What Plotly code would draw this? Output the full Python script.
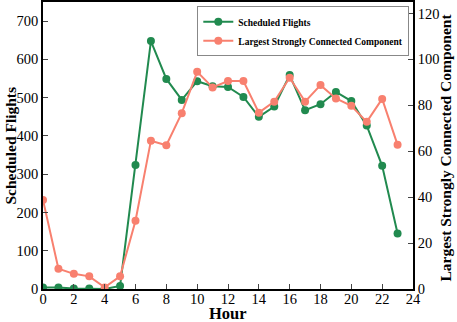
import plotly.graph_objects as go

hours = list(range(24))
scheduled_flights = [4, 4, 1, 1, 0, 8, 324, 648, 549, 494, 543, 530, 528, 502, 450, 477, 559, 467, 483, 515, 491, 427, 322, 145]
lscc = [38.8, 8.8, 6.6, 5.5, 0.7, 5.5, 29.7, 64.6, 62.6, 76.6, 94.6, 87.8, 90.6, 90.6, 76.8, 81.6, 92.0, 81.6, 88.8, 83.0, 79.8, 72.8, 82.8, 62.8]

x_ticks = list(range(0, 25, 2))
left_ticks = list(range(0, 701, 100))
right_ticks = list(range(0, 121, 20))

green = "#218a4f"
salmon = "#f8806f"
font_family = "Liberation Serif, Times New Roman, serif"

fig = go.Figure()
fig.add_trace(go.Scatter(x=hours, y=scheduled_flights, name="Scheduled Flights",
                         mode="lines+markers", line=dict(color=green, width=2),
                         marker=dict(color=green, size=8), yaxis="y"))
fig.add_trace(go.Scatter(x=hours, y=lscc, name="Largest Strongly Connected Component",
                         mode="lines+markers", line=dict(color=salmon, width=2),
                         marker=dict(color=salmon, size=8), yaxis="y2"))

axis_common = dict(ticks="inside", ticklen=5, showline=True, linecolor="black",
                   linewidth=1.5, showgrid=False, zeroline=False, automargin=False,
                   tickfont=dict(size=14.5))

fig.update_layout(
    width=457, height=322,
    margin=dict(l=43, r=44, t=2, b=33),
    plot_bgcolor="white", paper_bgcolor="white",
    font=dict(family=font_family, color="black", size=14),
    showlegend=True,
    legend=dict(x=0.99, y=0.985, xanchor="right", yanchor="top",
                bgcolor="white", bordercolor="#888888", borderwidth=1,
                font=dict(family=font_family, size=9.5, color="black", weight="bold"),
                itemwidth=30, tracegroupgap=0),
    xaxis=dict(range=[0, 24], tickvals=x_ticks, mirror=True, ticklabelstandoff=-4,
               **axis_common),
    yaxis=dict(range=[0, 750], tickvals=left_ticks, **axis_common),
    yaxis2=dict(range=[0, 125], tickvals=right_ticks, overlaying="y", side="right",
                **axis_common),
    annotations=[
        dict(text="<b>Hour</b>", xref="paper", yref="paper", x=0.5, y=0,
             xanchor="center", yanchor="middle", yshift=-24.5, showarrow=False,
             font=dict(size=16.5)),
        dict(text="<b>Scheduled Flights</b>", xref="paper", yref="paper", x=0, y=0.5,
             xanchor="center", yanchor="middle", xshift=-33, showarrow=False,
             textangle=-90, font=dict(size=15.5)),
        dict(text="<b>Largest Strongly Connected Component</b>", xref="paper", yref="paper",
             x=1, y=0.5, xanchor="center", yanchor="middle", xshift=32, yshift=-2,
             showarrow=False, textangle=-90, font=dict(size=15.5)),
    ],
)

fig.write_html("out.html", config={"displayModeBar": False},
               post_script="document.body.style.margin='0';document.body.style.overflow='hidden';")
